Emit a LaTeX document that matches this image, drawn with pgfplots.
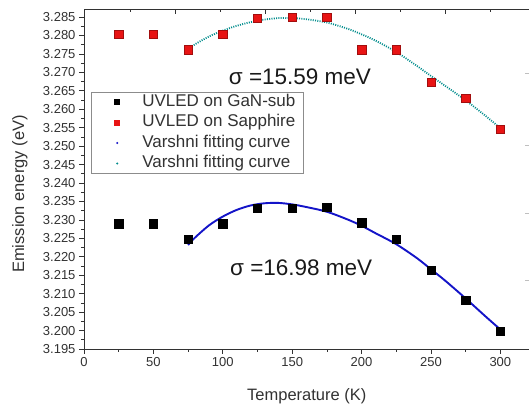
\documentclass[border=0pt]{standalone}
\usepackage{fontspec}
\setmainfont{Liberation Sans}
\usepackage{pgfplots}
\pgfplotsset{compat=1.18}
\definecolor{fitblue}{RGB}{20,20,200}
\definecolor{fitteal}{RGB}{0,140,140}
\definecolor{sqred}{RGB}{232,20,20}
\definecolor{axgray}{RGB}{50,50,50}
\begin{document}
\begin{tikzpicture}
\begin{axis}[
  scale only axis, width=445.5pt, height=339.5pt,
  at={(84pt,57pt)}, anchor=south west,
  xmin=0, xmax=321, ymin=3.195, ymax=3.28703,
  xtick={0,50,100,150,200,250,300},
  minor xtick={25,75,125,175,225,275},
  ytick={3.195,3.200,3.205,3.210,3.215,3.220,3.225,3.230,3.235,3.240,3.245,3.250,3.255,3.260,3.265,3.270,3.275,3.280,3.285},
  minor y tick num=1,
  xtick pos=left, ytick pos=left, tick align=outside,
  major tick length=5pt, minor tick length=3pt,
  every tick/.style={axgray, line width=0.7pt},
  axis line style={axgray, line width=0.9pt},
  /pgf/number format/assume math mode=true,
  yticklabel style={/pgf/number format/.cd, fixed, fixed zerofill, precision=3},
  xticklabel style={/pgf/number format/.cd, fixed},
  tick label style={font=\fontsize{13}{15}\selectfont, text=axgray},
  xlabel={Temperature (K)},
  ylabel={Emission energy (eV)},
  label style={font=\fontsize{16.5}{18}\selectfont, text=axgray},
  xlabel style={at={(axis description cs:0.5,-0.1385)}, anchor=center},
  ylabel style={at={(axis description cs:-0.1437,0.4566)}, anchor=center},
  legend cell align=left,
  legend style={at={(axis description cs:0.0157,0.757)}, anchor=north west,
    draw=black!45, line width=0.6pt, inner xsep=4pt, inner ysep=2pt,
    font=\fontsize{17}{19}\selectfont, text=axgray, row sep=5pt,
    nodes={inner xsep=4pt, inner ysep=0pt, text height=12pt, text depth=3.5pt},
    /tikz/every odd column/.style={column sep=5pt}},
]
\addplot[only marks, mark=square*, mark size=4.2pt, black,
  legend image code/.code={\path[draw=none,fill=none] (0pt,-3pt) rectangle (38pt,3pt); \fill[black,draw=none] (19pt,-3pt) rectangle (25pt,3pt);}]
  coordinates {(25,3.2290)(50,3.2290)(75,3.2248)(100,3.2290)(125,3.2332)(150,3.2332)(175,3.2335)(200,3.2292)(225,3.2248)(250,3.2164)(275,3.2083)(300,3.1999)};
\addlegendentry{UVLED on GaN-sub}
\addplot[only marks, mark=square*, mark size=4.2pt, sqred, mark options={draw=sqred!70!black, fill=sqred},
  legend image code/.code={\path[draw=none,fill=none] (0pt,-3pt) rectangle (38pt,3pt); \fill[sqred,draw=none] (19pt,-3pt) rectangle (25pt,3pt);}]
  coordinates {(25,3.2804)(50,3.2804)(75,3.2761)(100,3.2804)(125,3.2847)(150,3.2849)(175,3.2849)(200,3.2761)(225,3.2761)(250,3.2674)(275,3.2630)(300,3.2546)};
\addlegendentry{UVLED on Sapphire}
\addplot[fitblue, line width=1.9pt, smooth, no markers,
  legend image code/.code={\path[draw=none,fill=none] (0pt,-3pt) rectangle (38pt,3pt); \fill[fitblue,draw=none] (22pt,0pt) circle (1.1pt);}]
  coordinates {(75,3.2232)(80,3.2252)(90,3.2285)(100,3.2309)(110,3.2327)(120,3.2339)(130,3.2345)(140,3.2346)(150,3.2342)(160,3.2335)(175,3.2322)(190,3.2301)(200,3.2284)(210,3.2264)(225,3.2234)(240,3.2196)(250,3.2166)(260,3.2136)(275,3.2087)(290,3.2036)(300,3.2003)};
\addlegendentry{Varshni fitting curve}
\addplot[fitteal, line width=1.8pt, smooth, no markers, dash pattern=on 1pt off 1.3pt,
  legend image code/.code={\path[draw=none,fill=none] (0pt,-3pt) rectangle (38pt,3pt); \fill[fitteal,draw=none] (22pt,0pt) circle (1.1pt);}]
  coordinates {(75,3.2763)(80,3.2776)(90,3.2797)(100,3.2813)(110,3.2826)(120,3.2836)(130,3.2843)(140,3.2847)(150,3.2847)(160,3.2844)(175,3.2835)(190,3.2818)(200,3.2803)(210,3.2786)(225,3.2755)(240,3.2717)(250,3.2690)(260,3.2664)(275,3.2624)(290,3.2580)(300,3.2548)};
\addlegendentry{Varshni fitting curve}
\node[font=\fontsize{22.5}{24}\selectfont, text=black!90, anchor=center] at (axis cs:155.6,3.2687) {σ =15.59 meV};
\node[font=\fontsize{22.5}{24}\selectfont, text=black!90, anchor=center] at (axis cs:156.5,3.2170) {σ =16.98 meV};
\end{axis}
\begin{axis}[
  scale only axis, width=445.5pt, height=339.5pt,
  at={(84pt,57pt)}, anchor=south west,
  xmin=0, xmax=321, ymin=3.195, ymax=3.28703,
  axis line style={draw=none},
  xtick pos=right, ytick pos=right, tick align=inside,
  xtick={65.6,130.4,195.2,260.1},
  minor xtick={33.1,98,162.8,227.7,292.5},
  ytick={3.2137,3.2319,3.2503,3.2698},
  xticklabels={}, yticklabels={},
  major tick length=5pt, minor tick length=3pt,
  every tick/.style={axgray, line width=0.7pt},
  ytick style={black!25, line width=0.7pt},
]
\end{axis}
\pgfresetboundingbox
\useasboundingbox (0,0) rectangle (529pt,406pt);
\end{tikzpicture}
\end{document}
